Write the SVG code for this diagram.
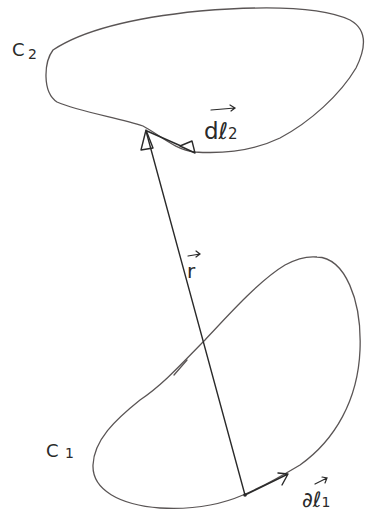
<svg xmlns="http://www.w3.org/2000/svg" width="366" height="516" viewBox="0 0 366 516">
<style>
.curve{fill:none;stroke:#5a5555;stroke-width:1.3;stroke-linecap:round;stroke-linejoin:round}
.vec{fill:none;stroke:#2a2a2a;stroke-width:1.4;stroke-linecap:round;stroke-linejoin:round}
.lbl{font-family:"DejaVu Sans","Liberation Sans",sans-serif;fill:#2a2a2a}
.ov{fill:none;stroke:#2a2a2a;stroke-width:1.2;stroke-linecap:round}
</style>
<rect width="366" height="516" fill="#ffffff"/>
<g id="C2">
<path class="curve" d="M53,50 C80,32 130,18 200,11 C260,6 320,6 350,20 C368,30 366,48 356,68 C340,95 310,122 280,138 C255,150 225,154 195,152 C175,150 160,135 143,126 C120,118 80,112 57,102 C42,92 44,62 53,50 Z"/>
<text class="lbl" x="12" y="56" font-size="18">C</text>
<text class="lbl" x="28" y="59" font-size="14">2</text>
</g>
<g id="C1">
<path class="curve" d="M317,257 C345,258 362,300 360,350 C358,400 335,440 300,465 C275,480 255,490 243,495 C220,505 195,510 160,508 C120,505 92,490 93,465 C94,440 115,420 140,400 C165,383 185,360 205,340 C230,313 260,280 285,265 C296,259 307,256 317,257 Z"/>
<path class="curve" stroke-width="2.4" stroke="#333" d="M174,375 L187,360"/>
<text class="lbl" x="46" y="457" font-size="18">C</text>
<text class="lbl" x="65" y="458" font-size="14">1</text>
</g>
<g id="connectors">
<path class="vec" d="M245,495 L146,131"/>
<path class="vec" d="M141,150 L146,130 L153,148 Z"/>
<path class="vec" d="M147,131 L181,146"/>
<path class="vec" d="M180,146 L192,141 L195,153 Z"/>
<path class="vec" d="M245,495 L288,474 M278,473 L288,474 L282,485"/>
<circle cx="245" cy="495" r="1.8" fill="#2a2a2a"/>
</g>
<g id="label-dl2">
<text class="lbl" x="204" y="139" font-size="23">dℓ<tspan font-size="15">2</tspan></text>
<path class="ov" d="M211,110 L235,108 M230,105 L235,108 L231,111"/>
</g>
<g id="label-r">
<text class="lbl" x="187" y="278" font-size="20">r</text>
<path class="ov" d="M188,256 L200,254 M196,251 L200,254 L196,257"/>
</g>
<g id="label-dl1">
<text class="lbl" x="302" y="507" font-size="21">∂ℓ<tspan font-size="14">1</tspan></text>
<path class="ov" d="M315,484 L327,478 M322,477 L327,478 L325,483"/>
</g>
</svg>
